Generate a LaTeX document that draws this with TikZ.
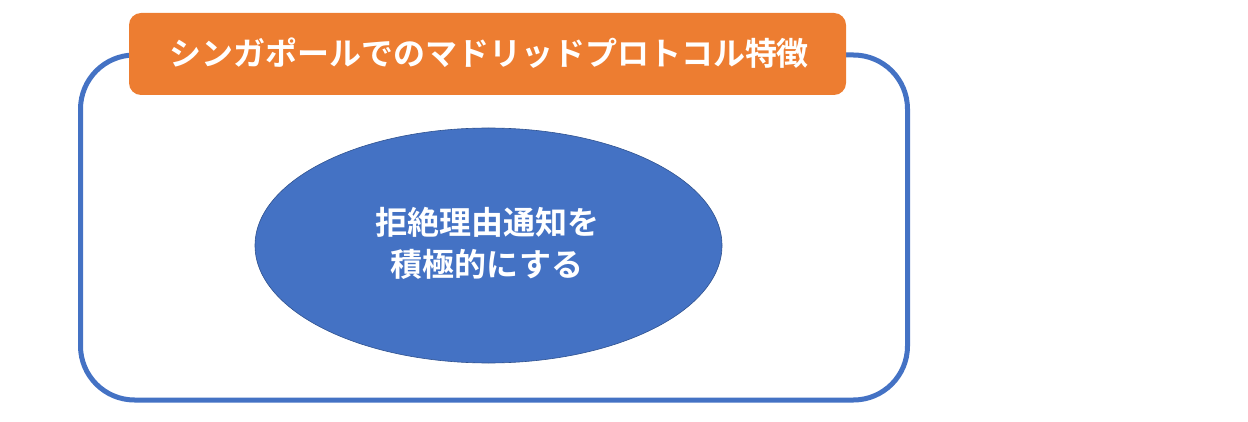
\documentclass[tikz,border=0pt]{standalone}
\usepackage{fontspec}
\newfontfamily\jp{Noto Sans CJK JP}[BoldFont={Noto Sans CJK JP Bold}]
\usetikzlibrary{shapes.geometric}
\definecolor{outerblue}{HTML}{4472C4}
\definecolor{tab}{HTML}{ED7D31}
\definecolor{elborder}{HTML}{2F528F}
\tikzset{
  frame/.style={draw=outerblue, line width=5pt, rounded corners=54pt},
  tabbox/.style={fill=tab, rounded corners=12pt},
  txt/.style={text=white, font=\jp\bfseries\fontsize{32}{42}\selectfont, align=center},
}
\begin{document}
\begin{tikzpicture}[x=1pt,y=-1pt]
\useasboundingbox (0,0) rectangle (1248,422);
\draw[frame] (80.5,55) rectangle (907.5,400);
\fill[tabbox] (129,13) rectangle (846,95);
\node[txt] (title) at (489,53) {シンガポールでのマドリッドプロトコル特徴};
\node[ellipse, fill=outerblue, draw=elborder, line width=0.6pt, minimum width=467pt, minimum height=235pt, inner sep=0pt] (el) at (488.5,245.5) {};
\node[txt] (eltext) at (487,243) {拒絶理由通知を\\積極的にする};
\end{tikzpicture}
\end{document}
